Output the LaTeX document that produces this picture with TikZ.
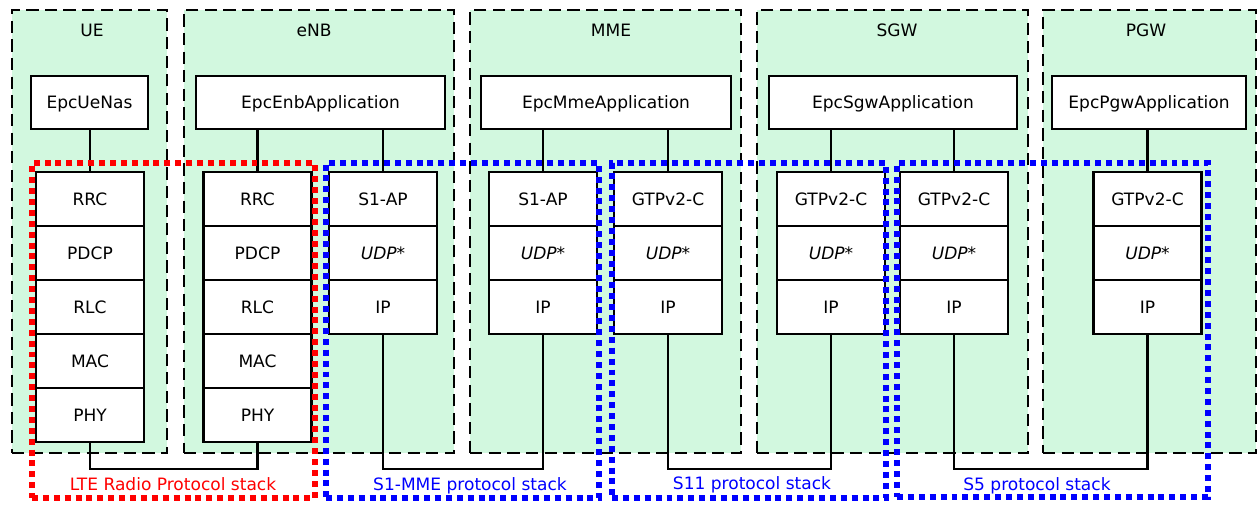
\documentclass[tikz,border=0pt]{standalone}
\usepackage{fontspec}
\setmainfont{DejaVu Sans}
\usepackage{tikz}
\usetikzlibrary{positioning,calc}
\definecolor{grpFill}{HTML}{D2F8DF}
\definecolor{stkRed}{HTML}{FF0000}
\definecolor{stkBlue}{HTML}{0000FF}
\tikzset{
  grp/.style={draw, line width=1.6pt, dash pattern=on 7pt off 3.6pt, fill=grpFill,
    minimum width=#1, minimum height=8.86cm, inner sep=0pt, outer sep=0pt},
  grptitle/.style={anchor=base, inner sep=0pt},
  app/.style={draw, line width=1.6pt, fill=white, minimum width=#1, minimum height=1.06cm,
    inner sep=0pt, text height=0.73em, text depth=0pt},
  layer/.style={app=2.16cm, minimum height=1.08cm, outer sep=0pt},
  link/.style={line width=1.4pt},
  stk/.style={draw=#1, line width=3.2pt, dash pattern=on 3.4pt off 2.8pt,
    minimum height=6.7cm, inner sep=0pt},
  stklabel/.style={anchor=base, inner sep=0pt, text=#1},
}

\begin{document}
\begin{tikzpicture}[x=0.02cm, y=-0.02cm, font=\fontsize{9.7}{11.6}\selectfont]
\useasboundingbox (0,0) rectangle (1257,506);
% network elements
\node[grp=3.1cm] (ue) at (89.5,231.5) {};
\node[grp=5.4cm] (enb) at (319,231.5) {};
\node[grp=5.42cm] (mme) at (605.5,231.5) {};
\node[grp=5.42cm] (sgw) at (892.5,231.5) {};
\node[grp=4.26cm] (pgw) at (1149.5,231.5) {};
\foreach \nm/\xt/\txt in {ue/92/UE, enb/314/eNB, mme/611/MME, sgw/897/SGW, pgw/1146/PGW}
  \node[grptitle] (\nm-title) at (\xt,37) {\txt};
% applications
\node[app=2.34cm] (uenas) at (89.5,102.5) {EpcUeNas};
\node[app=4.98cm] (enbapp) at (320.5,102.5) {EpcEnbApplication};
\node[app=5cm] (mmeapp) at (606,102.5) {EpcMmeApplication};
\node[app=4.96cm] (sgwapp) at (893,102.5) {EpcSgwApplication};
\node[app=3.88cm] (pgwapp) at (1149,102.5) {EpcPgwApplication};
% radio stacks
\foreach \nm/\xc/\host in {ue/90/uenas, enb/257.5/enbapp}{
  \node[layer] (\nm-rrc) at (\xc,199) {RRC};
  \node[layer, below=0pt of \nm-rrc] (\nm-pdcp) {PDCP};
  \node[layer, below=0pt of \nm-pdcp] (\nm-rlc) {RLC};
  \node[layer, below=0pt of \nm-rlc] (\nm-mac) {MAC};
  \node[layer, below=0pt of \nm-mac] (\nm-phy) {PHY};
  \draw[link] (\nm-rrc.north) -- (\nm-rrc.north |- \host.south);
}
% control plane stacks
\foreach \nm/\xc/\proto/\host in {enbs1/383/S1-AP/enbapp, mmes1/543/S1-AP/mmeapp,
    mmes11/668/GTPv2-C/mmeapp, sgws11/831/GTPv2-C/sgwapp,
    sgws5/954/GTPv2-C/sgwapp, pgws5/1147.5/GTPv2-C/pgwapp}{
  \node[layer] (\nm-ctl) at (\xc,199) {\proto};
  \node[layer, below=0pt of \nm-ctl] (\nm-udp) {\itshape UDP*};
  \node[layer, below=0pt of \nm-udp] (\nm-ip) {IP};
  \draw[link] (\nm-ctl.north) -- (\nm-ctl.north |- \host.south);
}
% interfaces
\draw[link] (ue-phy.south) -- ++(0,27) -| (enb-phy.south);
\draw[link] (enbs1-ip.south) -- ++(0,135) -| (mmes1-ip.south);
\draw[link] (mmes11-ip.south) -- ++(0,135) -| (sgws11-ip.south);
\draw[link] (sgws5-ip.south) -- ++(0,135) -| (pgws5-ip.south);
% protocol stack frames
\node[stk=stkRed, minimum width=5.66cm] (radio) at (173.5,330.5) {};
\node[stk=stkBlue, minimum width=5.46cm] (s1mme) at (462.5,330.5) {};
\node[stk=stkBlue, minimum width=5.48cm] (s11) at (749,330.5) {};
\node[stk=stkBlue, minimum width=6.22cm, minimum height=6.68cm] (s5) at (1052.5,330) {};
\node[stklabel=stkRed] (radio-lbl) at (173,490) {LTE Radio Protocol stack};
\node[stklabel=stkBlue] (s1mme-lbl) at (470,490) {S1-MME protocol stack};
\node[stklabel=stkBlue] (s11-lbl) at (752,489) {S11 protocol stack};
\node[stklabel=stkBlue] (s5-lbl) at (1037,490) {S5 protocol stack};
\end{tikzpicture}
\end{document}
